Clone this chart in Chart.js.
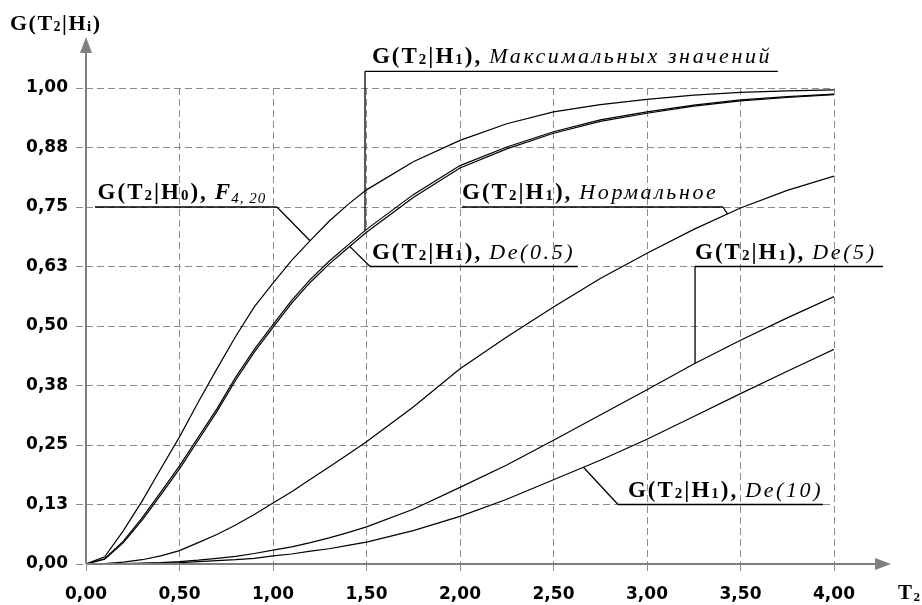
<!DOCTYPE html>
<html><head><meta charset="utf-8">
<script src="https://cdn.jsdelivr.net/npm/chart.js@4.4.1/dist/chart.umd.min.js"></script>
<style>html,body{margin:0;padding:0;background:#fff}canvas{display:block}</style>
</head><body>
<canvas id="c" width="922" height="605" style="width:922px;height:605px"></canvas>
<script>
// ---- data ----
const xs    = [0,0.1,0.2,0.3,0.4,0.5,0.6,0.7,0.8,0.9,1.0,1.1,1.2,1.3,1.4,1.5,1.75,2.0,2.25,2.5,2.75,3.0,3.25,3.5,3.75,4.0];
const gH0   = [0,0.015,0.07,0.132,0.2,0.267,0.34,0.41,0.478,0.54,0.59,0.638,0.68,0.72,0.755,0.786,0.845,0.89,0.925,0.95,0.965,0.976,0.985,0.991,0.994,0.996];
const gMax  = [0,0.011,0.048,0.097,0.151,0.206,0.266,0.326,0.392,0.451,0.503,0.554,0.598,0.636,0.67,0.703,0.776,0.837,0.876,0.908,0.933,0.95,0.964,0.975,0.982,0.987];
const gDe05 = [0,0.01,0.045,0.092,0.145,0.2,0.26,0.32,0.386,0.445,0.497,0.548,0.592,0.63,0.664,0.697,0.77,0.832,0.872,0.905,0.93,0.947,0.962,0.973,0.98,0.986];
const gNorm = [0,0.001,0.004,0.009,0.017,0.028,0.045,0.062,0.082,0.104,0.128,0.152,0.178,0.204,0.23,0.257,0.33,0.41,0.477,0.54,0.6,0.653,0.703,0.748,0.785,0.815];
const gDe5  = [0,0,0.001,0.002,0.003,0.005,0.008,0.012,0.016,0.022,0.029,0.036,0.045,0.055,0.066,0.078,0.115,0.161,0.208,0.26,0.313,0.366,0.42,0.47,0.517,0.562];
const gDe10 = [0,0,0,0.001,0.002,0.003,0.005,0.007,0.009,0.012,0.017,0.021,0.027,0.032,0.039,0.046,0.07,0.1,0.136,0.177,0.218,0.262,0.31,0.358,0.405,0.451];

const xTickLabels = ['0,00','0,50','1,00','1,50','2,00','2,50','3,00','3,50','4,00'];
const yTickLabels = ['0,00','0,13','0,25','0,38','0,50','0,63','0,75','0,88','1,00'];

// annotations (in data units)
const annSeries = [gMax, gH0, gNorm, gDe05, gDe5, gDe10];
const annSub    = ['1','0','1','1','1','1'];
const annItalic = ['Максимальных значений','F','Нормальное','De(0.5)','De(5)','De(10)'];
const annTextX  = [1.529, 0.062, 2.011, 1.529, 3.257, 2.898];
const annLineX1 = [1.492, 0.048, 2.011, 1.519, 3.257, 2.845];
const annLineX2 = [3.70, 1.021, 3.406, 2.631, 4.262, 3.941];
const annLineY  = [1.035, 0.75, 0.75, 0.625, 0.625, 0.125];
const annAnchorX= [1.492, 1.198, 3.43, 1.41, 3.257, 2.66];
const annFrom   = ['x1','x2','x2','x1','x1','x1'];

function interp(arr, v){
  for(let i=1;i<xs.length;i++){
    if(v<=xs[i]){const t=(v-xs[i-1])/(xs[i]-xs[i-1]);return arr[i-1]+t*(arr[i]-arr[i-1]);}
  }
  return arr[arr.length-1];
}

const SERIF='"Liberation Serif","Times New Roman",serif';
function drawG(ctx, px, py, sub, italic){
  let cx=px;
  const big='bold 23px '+SERIF, small='bold 15px '+SERIF;
  const seg=(t,f,dy)=>{ctx.font=f;ctx.fillText(t,cx,py+dy);cx+=ctx.measureText(t).width;};
  ctx.letterSpacing='2px';
  seg('G(T',big,0); seg('2',small,1); seg('|H',big,0); seg(sub,small,1); seg('),',big,0);
  cx+=7;
  if(italic==='F'){
    ctx.letterSpacing='1px';
    seg('F','bold italic 23px '+SERIF,0); seg('4, 20','italic 15px '+SERIF,4);
  } else {
    ctx.letterSpacing='2.6px';
    seg(italic,'italic 22px '+SERIF,0);
  }
  ctx.letterSpacing='0px';
}

const decoPlugin={id:'deco',afterDatasetsDraw(chart){
  const {ctx,scales:{x,y}}=chart;
  ctx.save();
  // axes
  ctx.strokeStyle='#7f7f7f'; ctx.fillStyle='#7f7f7f'; ctx.lineWidth=2; ctx.setLineDash([]);
  const x0=x.getPixelForValue(0), y0=y.getPixelForValue(0);
  ctx.beginPath(); ctx.moveTo(x0,y0); ctx.lineTo(x0,48); ctx.stroke();
  ctx.beginPath(); ctx.moveTo(x0,37); ctx.lineTo(x0-6,53); ctx.lineTo(x0+6,53); ctx.closePath(); ctx.fill();
  ctx.beginPath(); ctx.moveTo(x0,y0); ctx.lineTo(880,y0); ctx.stroke();
  ctx.beginPath(); ctx.moveTo(891,y0); ctx.lineTo(875,y0-6); ctx.lineTo(875,y0+6); ctx.closePath(); ctx.fill();
  // axis titles
  ctx.fillStyle='#000'; ctx.textBaseline='alphabetic'; ctx.textAlign='left';
  let cx=10;
  const seg=(t,f,yy,dy)=>{ctx.font=f;ctx.fillText(t,cx,yy+dy);cx+=ctx.measureText(t).width;};
  ctx.letterSpacing='1.5px';
  seg('G(T','bold 22px '+SERIF,30,0); seg('2','bold 14px '+SERIF,30,1); seg('|H','bold 22px '+SERIF,30,0); seg('i','bold 15px '+SERIF,30,1); seg(')','bold 22px '+SERIF,30,0);
  cx=898;
  seg('T','bold 21px '+SERIF,599,0); seg('2','bold 13px '+SERIF,599,2);
  ctx.letterSpacing='0px';
  // annotations
  ctx.strokeStyle='#000'; ctx.lineWidth=1.3;
  for(let i=0;i<annSeries.length;i++){
    const ly=y.getPixelForValue(annLineY[i]);
    const lx1=x.getPixelForValue(annLineX1[i]), lx2=x.getPixelForValue(annLineX2[i]);
    const ax=x.getPixelForValue(annAnchorX[i]), ay=y.getPixelForValue(interp(annSeries[i],annAnchorX[i]));
    const sx=annFrom[i]==='x1'?lx1:lx2;
    ctx.beginPath(); ctx.moveTo(lx2,ly); ctx.lineTo(lx1,ly); ctx.stroke();
    ctx.beginPath(); ctx.moveTo(sx,ly); ctx.lineTo(ax,ay); ctx.stroke();
    drawG(ctx, x.getPixelForValue(annTextX[i]), ly-8, annSub[i], annItalic[i]);
  }
  ctx.restore();
}};

const mk=(arr)=>({data:xs.map((v,i)=>({x:v,y:arr[i]})),borderColor:'#000',borderWidth:1.2,pointRadius:0,tension:0,fill:false});
const tickFont={family:'"DejaVu Sans","Liberation Sans",sans-serif',weight:'bold',size:17};

new Chart(document.getElementById('c'),{
  type:'line',
  data:{datasets:[mk(gH0),mk(gMax),mk(gDe05),mk(gNorm),mk(gDe5),mk(gDe10)]},
  options:{
    responsive:false,animation:false,devicePixelRatio:1,
    layout:{padding:{left:0,right:88,top:88,bottom:0}},
    plugins:{legend:{display:false},tooltip:{enabled:false}},
    scales:{
      x:{type:'linear',min:0,max:4,
        ticks:{stepSize:0.5,autoSkip:false,maxRotation:0,color:'#000',font:tickFont,padding:12,callback:(v,i)=>xTickLabels[i]},
        grid:{color:'#8c8c8c',lineWidth:1,tickLength:8,tickBorderDash:[7,4],tickColor:'#8c8c8c'},
        border:{display:false,dash:[7,4]},
        afterFit:s=>{s.height=41;}},
      y:{type:'linear',min:0,max:1,
        ticks:{stepSize:0.125,autoSkip:false,color:'#000',font:tickFont,padding:8,callback:(v,i)=>yTickLabels[i]},
        grid:{color:'#8c8c8c',lineWidth:1,tickLength:10,tickBorderDash:[7,4],tickColor:'#8c8c8c'},
        border:{display:false,dash:[7,4]},
        afterFit:s=>{s.width=86;}}
    }
  },
  plugins:[decoPlugin]
});
</script>
</body></html>
